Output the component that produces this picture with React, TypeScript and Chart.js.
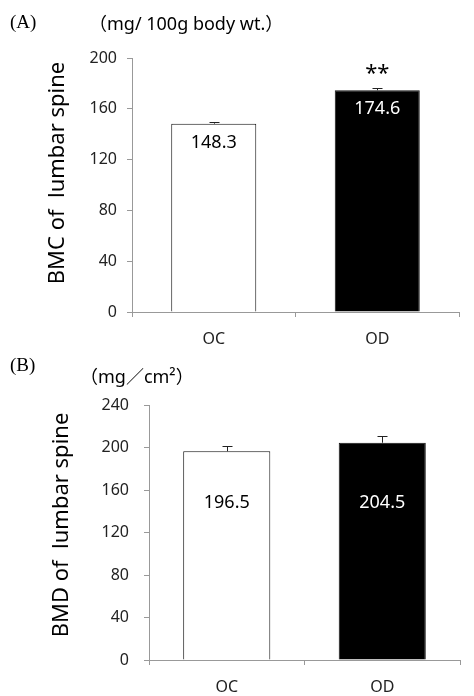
import { useEffect, useRef } from 'react';
import { Chart, registerables } from 'chart.js';

Chart.register(...registerables);

const categories = ['OC', 'OD'];

const bmcValues = [148.3, 174.6];
const bmcErrors = [1.5, 1.8];
const bmcSig = ['', '**'];
const bmcTicks = [0, 40, 80, 120, 160, 200];

const bmdValues = [196.5, 204.5];
const bmdErrors = [4.7, 6.2];
const bmdSig = ['', ''];
const bmdTicks = [0, 40, 80, 120, 160, 200, 240];

const barFills = ['#ffffff', '#000000'];
const labelColors = ['#000000', '#ffffff'];

const SANS = '"Noto Sans", "DejaVu Sans", sans-serif';
const UNIT = '"Noto Sans", "Noto Sans CJK JP", sans-serif';
const SERIF = '"Liberation Serif", "DejaVu Serif", serif';

type Panel = {
  values: number[];
  errors: number[];
  sig: string[];
  ticks: number[];
  tag: string;
  unit: string;
  yTitle: string;
  axisLeft: number;
  padRight: number;
  padTop: number;
  barPct: number;
  tickPad: number;
  labelValue: (v: number) => number;
  tagPos: [number, number];
  unitPos: [number, number];
  titlePos: [number, number];
};

const panels: Panel[] = [
  {
    values: bmcValues,
    errors: bmcErrors,
    sig: bmcSig,
    ticks: bmcTicks,
    tag: '(A)',
    unit: '（mg/ 100g body wt.）',
    yTitle: 'BMC of  lumbar spine',
    axisLeft: 132,
    padRight: 15,
    padTop: 58,
    barPct: 0.52,
    tickPad: 10,
    labelValue: (v) => v - 15,
    tagPos: [10, 23],
    unitPos: [89, 25],
    titlePos: [58, 173],
  },
  {
    values: bmdValues,
    errors: bmdErrors,
    sig: bmdSig,
    ticks: bmdTicks,
    tag: '(B)',
    unit: '（mg／cm²）',
    yTitle: 'BMD of  lumbar spine',
    axisLeft: 149,
    padRight: 14,
    padTop: 57,
    barPct: 0.56,
    tickPad: 15,
    labelValue: () => 148,
    tagPos: [10, 18],
    unitPos: [80, 30],
    titlePos: [62, 177],
  },
];

function BarPanel({ p }: { p: Panel }) {
  const ref = useRef<HTMLCanvasElement | null>(null);
  useEffect(() => {
    if (!ref.current) return;
    const annot = {
      id: 'annot',
      afterDatasetsDraw(chart: any) {
        const ctx = chart.ctx;
        const y = chart.scales.y;
        const meta = chart.getDatasetMeta(0);
        meta.data.forEach((el: any, i: number) => {
          const v = p.values[i];
          const top = y.getPixelForValue(v + p.errors[i]);
          ctx.save();
          ctx.strokeStyle = '#222';
          ctx.lineWidth = 1;
          ctx.beginPath();
          const x = Math.round(el.x) + 0.5;
          ctx.moveTo(x, el.y);
          ctx.lineTo(x, Math.round(top) + 0.5);
          ctx.moveTo(x - 5, Math.round(top) + 0.5);
          ctx.lineTo(x + 5, Math.round(top) + 0.5);
          ctx.stroke();
          ctx.fillStyle = labelColors[i];
          ctx.font = `18px ${SANS}`;
          ctx.textAlign = 'center';
          ctx.textBaseline = 'middle';
          ctx.fillText(v.toFixed(1), el.x, y.getPixelForValue(p.labelValue(v)));
          if (p.sig[i]) {
            ctx.fillStyle = '#000';
            ctx.font = `22px ${SANS}`;
            ctx.textBaseline = 'middle';
            ctx.fillText(p.sig[i], el.x, top - 14);
          }
          ctx.restore();
        });
      },
      afterDraw(chart: any) {
        const ctx = chart.ctx;
        ctx.save();
        ctx.fillStyle = '#000';
        ctx.textBaseline = 'middle';
        ctx.textAlign = 'left';
        ctx.font = `19px ${SERIF}`;
        ctx.fillText(p.tag, p.tagPos[0], p.tagPos[1]);
        ctx.font = `18px ${UNIT}`;
        ctx.fillText(p.unit, p.unitPos[0], p.unitPos[1]);
        ctx.translate(p.titlePos[0], p.titlePos[1]);
        ctx.rotate(-Math.PI / 2);
        ctx.textAlign = 'center';
        ctx.font = `22px ${SANS}`;
        ctx.fillText(p.yTitle, 0, 0);
        ctx.restore();
      },
    };
    const chart = new Chart(ref.current, {
      type: 'bar',
      data: {
        labels: categories,
        datasets: [
          {
            data: p.values,
            backgroundColor: barFills,
            borderColor: '#111',
            borderWidth: 1,
            categoryPercentage: 1,
            barPercentage: p.barPct,
          },
        ],
      },
      options: {
        responsive: false,
        animation: false,
        events: [],
        layout: { padding: { left: 0, top: p.padTop, right: p.padRight, bottom: 0 } },
        plugins: { legend: { display: false }, tooltip: { enabled: false } },
        scales: {
          x: {
            afterFit: (s: any) => {
              s.height = 36;
            },
            grid: {
              offset: true,
              drawOnChartArea: false,
              drawTicks: true,
              tickLength: 5,
              color: '#999',
            },
            border: { display: true, color: '#999' },
            ticks: { color: '#222', font: { size: 16, family: SANS }, padding: 13 },
          },
          y: {
            min: p.ticks[0],
            max: p.ticks[p.ticks.length - 1],
            afterFit: (s: any) => {
              s.width = p.axisLeft;
            },
            grid: {
              drawOnChartArea: false,
              drawTicks: true,
              tickLength: 5,
              color: '#999',
            },
            border: { display: true, color: '#999' },
            ticks: {
              stepSize: p.ticks[1] - p.ticks[0],
              color: '#222',
              font: { size: 16, family: SANS },
              padding: p.tickPad,
            },
          },
        },
      },
      plugins: [annot],
    });
    return () => chart.destroy();
  }, [p]);
  return <canvas ref={ref} width={474} height={348} style={{ display: 'block' }} />;
}

export default function App() {
  return (
    <div style={{ position: 'absolute', left: 0, top: 0, width: 474, height: 696, background: '#fff' }}>
      <BarPanel p={panels[0]} />
      <BarPanel p={panels[1]} />
    </div>
  );
}
